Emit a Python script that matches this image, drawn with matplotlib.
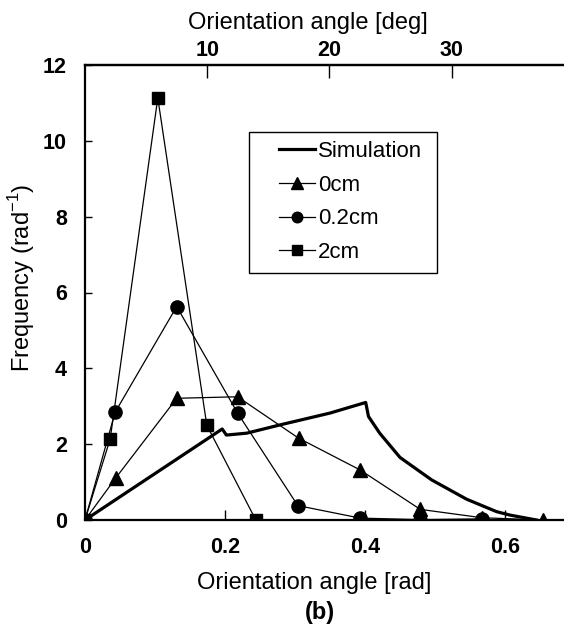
import numpy as np
import matplotlib
matplotlib.use("Agg")
import matplotlib.pyplot as plt
from matplotlib.patches import Rectangle

plt.rcParams['font.family'] = ['Liberation Sans', 'DejaVu Sans']
plt.rcParams['mathtext.fontset'] = 'custom'
plt.rcParams['mathtext.rm'] = 'Liberation Sans'

# 2cm (squares)
x_2cm = [0.0, 0.036, 0.104, 0.174, 0.244]
y_2cm = [0.0, 2.14, 11.13, 2.50, 0.0]

# 0.2cm (circles)
x_02cm = [0.0, 0.043, 0.131, 0.218, 0.304, 0.393, 0.478, 0.567]
y_02cm = [0.0, 2.84, 5.63, 2.82, 0.38, 0.05, 0.01, 0.03]

# 0cm (triangles)
x_0cm = [0.0, 0.044, 0.131, 0.218, 0.305, 0.393, 0.479, 0.567, 0.654]
y_0cm = [0.0, 1.11, 3.21, 3.25, 2.16, 1.32, 0.28, 0.06, 0.0]

# simulation curve
x_sim = [0.0, 0.196, 0.202, 0.231, 0.279, 0.350, 0.401, 0.405, 0.421,
         0.450, 0.495, 0.545, 0.588, 0.607, 0.645]
y_sim = [0.0, 2.40, 2.24, 2.29, 2.51, 2.82, 3.10, 2.73, 2.29,
         1.65, 1.06, 0.55, 0.22, 0.13, 0.0]

W, H = 564, 628
fig = plt.figure(figsize=(W/100, H/100), dpi=100)
ax = fig.add_axes([85/W, 1 - 520/H, 479/W, 455/H])

ax.plot(x_sim, y_sim, color='black', lw=2.3, label='Simulation', zorder=2)
ax.plot(x_0cm, y_0cm, color='black', lw=0.9, marker='^', ms=10, label='0cm', zorder=3)
ax.plot(x_02cm, y_02cm, color='black', lw=0.9, marker='o', ms=9.5, label='0.2cm', zorder=3)
ax.plot(x_2cm, y_2cm, color='black', lw=0.9, marker='s', ms=9, label='2cm', zorder=3)

ax.set_xlim(0, 479/700)
ax.set_ylim(0, 12)
ax.spines['right'].set_visible(False)
for s in ['left', 'bottom', 'top']:
    ax.spines[s].set_linewidth(1.6)

ax.set_xticks([0, 0.2, 0.4, 0.6])
ax.set_xticklabels(['0', '0.2', '0.4', '0.6'])
ax.set_yticks(range(0, 13, 2))
ax.tick_params(axis='x', direction='in', length=7, width=1, pad=12, labelsize=15.5)
ax.tick_params(axis='y', direction='in', length=5, width=1, pad=13, labelsize=15.5)
for lab in ax.get_xticklabels() + ax.get_yticklabels():
    lab.set_fontweight('bold')

# top axis in degrees
deg_ticks = [10, 20, 30]
top = ax.secondary_xaxis('top', functions=(np.degrees, np.radians))
top.set_xticks(deg_ticks)
top.tick_params(direction='in', length=9, width=1, pad=3, labelsize=15.5)
for lab in top.get_xticklabels():
    lab.set_fontweight('bold')
top.spines['top'].set_linewidth(1.6)

fig.text(314/W, 1 - 583/H, 'Orientation angle [rad]', fontsize=17,
         ha='center', va='center')
fig.text(308/W, 1 - 23/H, 'Orientation angle [deg]', fontsize=17,
         ha='center', va='center')
fig.text(22/W, 1 - 278/H, r'Frequency (rad$^{\mathrm{-1}}$)', fontsize=17,
         ha='center', va='center', rotation=90)
fig.text(320/W, 1 - 613/H, '(b)', fontsize=17, fontweight='bold',
         ha='center', va='center')

# legend box drawn separately, entries without frame
ax.add_patch(Rectangle(((249-85)/479, (520-273)/455), (437-249)/479, (273-132)/455,
                       transform=ax.transAxes, fill=True, facecolor='white',
                       edgecolor='black', lw=1.0, zorder=4))
leg = ax.legend(loc='upper left', bbox_to_anchor=((279-85)/479, (520-141)/455),
                borderaxespad=0, borderpad=0, fontsize=16, frameon=False,
                handlelength=1.6, handletextpad=0.15, labelspacing=0.57,
                markerscale=0.8)
leg.set_zorder(5)

fig.savefig('out.png', dpi=100)
